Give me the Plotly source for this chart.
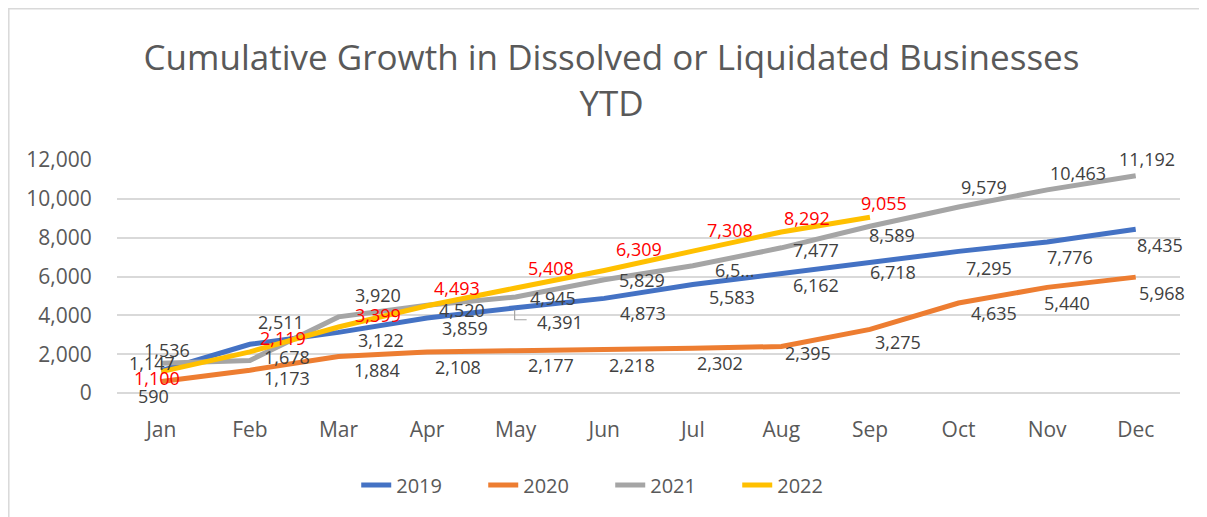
import plotly.graph_objects as go

months = ["Jan", "Feb", "Mar", "Apr", "May", "Jun", "Jul", "Aug", "Sep", "Oct", "Nov", "Dec"]
v2019 = [1147, 2511, 3122, 3859, 4391, 4873, 5583, 6162, 6718, 7295, 7776, 8435]
v2020 = [590, 1173, 1884, 2108, 2177, 2218, 2302, 2395, 3275, 4635, 5440, 5968]
v2021 = [1536, 1678, 3920, 4520, 4945, 5829, 6550, 7477, 8589, 9579, 10463, 11192]
v2022 = [1100, 2119, 3399, 4493, 5408, 6309, 7308, 8292, 9055]
y_ticks = [0, 2000, 4000, 6000, 8000, 10000, 12000]

title = "Cumulative Growth in Dissolved or Liquidated Businesses<br>YTD"
FONT = "Open Sans"

def fmt(vals):
    return [f"{v:,}" for v in vals]

lab2021 = fmt(v2021)
lab2021[6] = "6,5..."  # truncated label as shown in the source

# label offsets in pixels (dx right, dy up) relative to each point
off2019 = [(-9, 8), (31, 22), (43, -8), (38, -10), (44, -14), (39, -15), (39, -12),
           (35, -12), (23, -9), (30, -17), (23, -15), (24, -16)]
off2020 = [(-8, -14), (37, -8), (39, -14), (31, -15), (35, -14), (28, -15), (27, -15),
           (27, -6), (28, -13), (35, -10), (20, -16), (26, -16)]
off2021 = [(6, 13), (37, 3), (40, 22), (35, -5), (37, -1), (38, 0), (42, -4),
           (35, -2), (22, -9), (25, 20), (31, 17), (11, 17)]
off2022 = [(-4, -6), (33, 14), (40, 12), (30, 18), (35, 20), (35, 22), (37, 21),
           (26, 14), (14, 14)]

series = [
    ("2019", v2019, "#4472C4", fmt(v2019), "#404040", off2019),
    ("2020", v2020, "#ED7D31", fmt(v2020), "#404040", off2020),
    ("2021", v2021, "#A5A5A5", lab2021, "#404040", off2021),
    ("2022", v2022, "#FFC000", fmt(v2022), "#FF0000", off2022),
]

fig = go.Figure()
annotations = []
for name, vals, color, labels, tcolor, offs in series:
    xs = months[:len(vals)]
    fig.add_trace(go.Scatter(
        x=xs, y=vals, name=name, mode="lines",
        line=dict(color=color, width=5), hoverinfo="skip",
    ))
    for x, y, t, (dx, dy) in zip(xs, vals, labels, offs):
        annotations.append(dict(
            x=x, y=y, xref="x", yref="y", text=t, showarrow=False,
            xanchor="center", yanchor="middle", xshift=dx, yshift=dy,
            font=dict(family=FONT, size=18, color=tcolor),
        ))

# chart border (outer frame)
fig.add_shape(type="rect", xref="paper", yref="paper",
              x0=-0.1018, x1=1.04, y0=-0.6, y1=1.649,
              line=dict(color="#D9D9D9", width=1.5), fillcolor="rgba(0,0,0,0)", layer="below")
# leader line of the May 2019 label
fig.add_shape(type="path", xref="x", yref="y", xsizemode="pixel", ysizemode="pixel",
              xanchor="May", yanchor=v2019[4], path="M-1,-2 L-1,-12 L11,-12",
              line=dict(color="#A5A5A5", width=1.2))

fig.update_layout(
    width=1207, height=517,
    margin=dict(l=109, r=35, t=152, b=132, autoexpand=False),
    paper_bgcolor="white", plot_bgcolor="white",
    title=dict(text=title, x=0.5, xanchor="center", y=1 - 62 / 517, yanchor="middle",
               font=dict(family=FONT, size=35, color="#595959"), automargin=False),
    font=dict(family=FONT, color="#595959"),
    annotations=annotations,
    showlegend=True,
    legend=dict(orientation="h", x=0.464, xanchor="center", y=-0.395, yanchor="middle",
                font=dict(family=FONT, size=20, color="#595959"),
                entrywidth=82, entrywidthmode="pixels"),
    xaxis=dict(type="category", categoryorder="array", categoryarray=months,
               range=[-0.5, 11.5], showgrid=False, showline=False, zeroline=False,
               ticks="outside", ticklen=18, tickcolor="rgba(0,0,0,0)",
               tickfont=dict(family=FONT, size=21, color="#595959")),
    yaxis=dict(range=[0, 12000], tickvals=y_ticks, tickformat=",d",
               showgrid=True, gridcolor="#D9D9D9", gridwidth=1.5,
               zeroline=True, zerolinecolor="#D9D9D9", zerolinewidth=1.5,
               showline=False, ticks="outside", ticklen=20, tickcolor="rgba(0,0,0,0)",
               tickfont=dict(family=FONT, size=21, color="#595959")),
)

fig.write_html("out.html")
